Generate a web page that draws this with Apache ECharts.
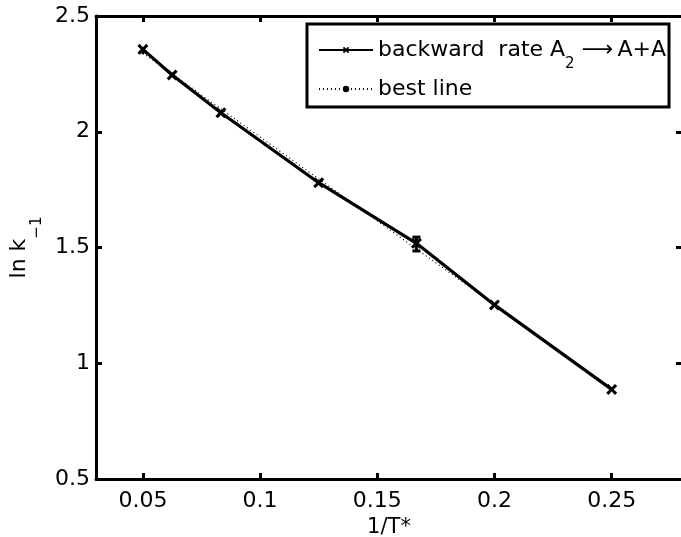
<!DOCTYPE html>
<html>
<head>
<meta charset="utf-8">
<script src="https://cdn.jsdelivr.net/npm/echarts@6/dist/echarts.min.js"></script>
<style>html,body{margin:0;padding:0;background:#fff}#c{width:681px;height:537px}</style>
</head>
<body>
<div id="c"></div>
<script>
// ---- data ----
const invT = [0.05, 0.0625, 0.0833, 0.125, 0.1667, 0.2, 0.25];
const lnK = [2.356, 2.245, 2.082, 1.78, 1.518, 1.252, 0.887];
const errX = [0.1667];
const errLow = [1.485];
const errHigh = [1.545];
const bestX = [0.05, 0.25];
const bestY = [2.34, 0.89];
const xTicks = [0.05, 0.1, 0.15, 0.2, 0.25];

const FONT = '"DejaVu Sans", sans-serif';
const chart = echarts.init(document.getElementById('c'));
const xSym = 'path://M0,2L2,0L5,3L8,0L10,2L7,5L10,8L8,10L5,7L2,10L0,8L3,5Z';

const axisCommon = {
  axisLine: { show: true, onZero: false, lineStyle: { color: '#000', width: 3 } },
  axisTick: { show: true, inside: true, length: 6, lineStyle: { color: '#000', width: 3 } },
  splitLine: { show: false },
  axisLabel: { show: true, color: '#000', fontFamily: FONT, fontSize: 22 }
};

chart.setOption({
  animation: false,
  backgroundColor: '#fff',
  grid: { left: 96, right: -1, top: 16, bottom: 58, containLabel: false, outerBoundsMode: 'none' },
  xAxis: [
    Object.assign({}, axisCommon, {
      type: 'value', position: 'bottom', min: 0.03, max: 0.28,
      axisTick: Object.assign({}, axisCommon.axisTick, { customValues: xTicks }),
      axisLabel: Object.assign({}, axisCommon.axisLabel, { customValues: xTicks, margin: 11 }),
      name: '1/T*', nameLocation: 'middle', nameGap: 36,
      nameTextStyle: { color: '#000', fontFamily: FONT, fontSize: 21 }
    }),
    Object.assign({}, axisCommon, {
      type: 'value', position: 'top', min: 0.03, max: 0.28,
      axisTick: Object.assign({}, axisCommon.axisTick, { customValues: xTicks }),
      axisLabel: { show: false }
    })
  ],
  yAxis: [
    Object.assign({}, axisCommon, {
      type: 'value', position: 'left', min: 0.5, max: 2.5, interval: 0.5,
      axisLabel: Object.assign({}, axisCommon.axisLabel, { margin: 6 }),
      name: '{t|ln k}{s|−1}', nameLocation: 'middle', nameGap: 55, nameRotate: 90,
      nameTextStyle: {
        color: '#000', fontFamily: FONT, fontSize: 22,
        rich: {
          t: { fontFamily: FONT, fontSize: 22, lineHeight: 30, verticalAlign: 'middle', color: '#000' },
          s: { fontFamily: FONT, fontSize: 15, lineHeight: 8, verticalAlign: 'top', padding: [25, 0, 0, 0], color: '#000' }
        }
      }
    }),
    Object.assign({}, axisCommon, {
      type: 'value', position: 'right', min: 0.5, max: 2.5, interval: 0.5,
      axisLabel: { show: false }
    })
  ],
  graphic: [{
    type: 'rect', z: 3,
    shape: { x: 307, y: 24, width: 362, height: 83 },
    style: { fill: '#fff', stroke: '#000', lineWidth: 3 }
  }],
  legend: {
    z: 5, orient: 'vertical', left: 318, top: 37, padding: 0,
    itemWidth: 54, itemHeight: 8, itemGap: 6,
    backgroundColor: 'transparent',
    data: [
      { name: 'backward' },
      { name: 'best' }
    ],
    formatter: function (n) {
      return n === 'backward' ? '{t|backward  rate A}{s|2}{t| ⟶\u2009A+A}' : '{t|best line}';
    },
    textStyle: {
      color: '#000', fontFamily: FONT, fontSize: 22, padding: [0, 0, 0, 0],
      rich: {
        t: { fontFamily: FONT, fontSize: 22, lineHeight: 26, verticalAlign: 'middle', color: '#000' },
        s: { fontFamily: FONT, fontSize: 15, lineHeight: 10, verticalAlign: 'top', padding: [20, 0, 0, 0], color: '#000' }
      }
    }
  },
  series: [
    {
      name: 'backward', type: 'line', xAxisIndex: 0, yAxisIndex: 0,
      data: invT.map((x, i) => [x, lnK[i]]),
      lineStyle: { color: '#000', width: 3.2 },
      itemStyle: { color: '#000' },
      symbol: xSym, symbolSize: 11, showSymbol: true, z: 2
    },
    {
      name: 'err', type: 'custom', xAxisIndex: 0, yAxisIndex: 0, z: 3,
      data: errX.map((x, i) => [x, errLow[i], errHigh[i]]),
      renderItem: function (params, api) {
        const lo = api.coord([api.value(0), api.value(1)]);
        const hi = api.coord([api.value(0), api.value(2)]);
        const w = 4;
        const st = { stroke: '#000', lineWidth: 3 };
        return { type: 'group', children: [
          { type: 'line', shape: { x1: lo[0], y1: lo[1], x2: hi[0], y2: hi[1] }, style: st },
          { type: 'line', shape: { x1: lo[0] - w, y1: lo[1], x2: lo[0] + w, y2: lo[1] }, style: st },
          { type: 'line', shape: { x1: hi[0] - w, y1: hi[1], x2: hi[0] + w, y2: hi[1] }, style: st }
        ] };
      }
    },
    {
      name: 'best', type: 'line', xAxisIndex: 0, yAxisIndex: 0,
      data: bestX.map((x, i) => [x, bestY[i]]),
      lineStyle: { color: '#000', width: 1.2, type: [1, 3] },
      itemStyle: { color: '#000' },
      symbol: 'circle', symbolSize: 3, z: 4
    }
  ]
});
</script>
</body>
</html>
